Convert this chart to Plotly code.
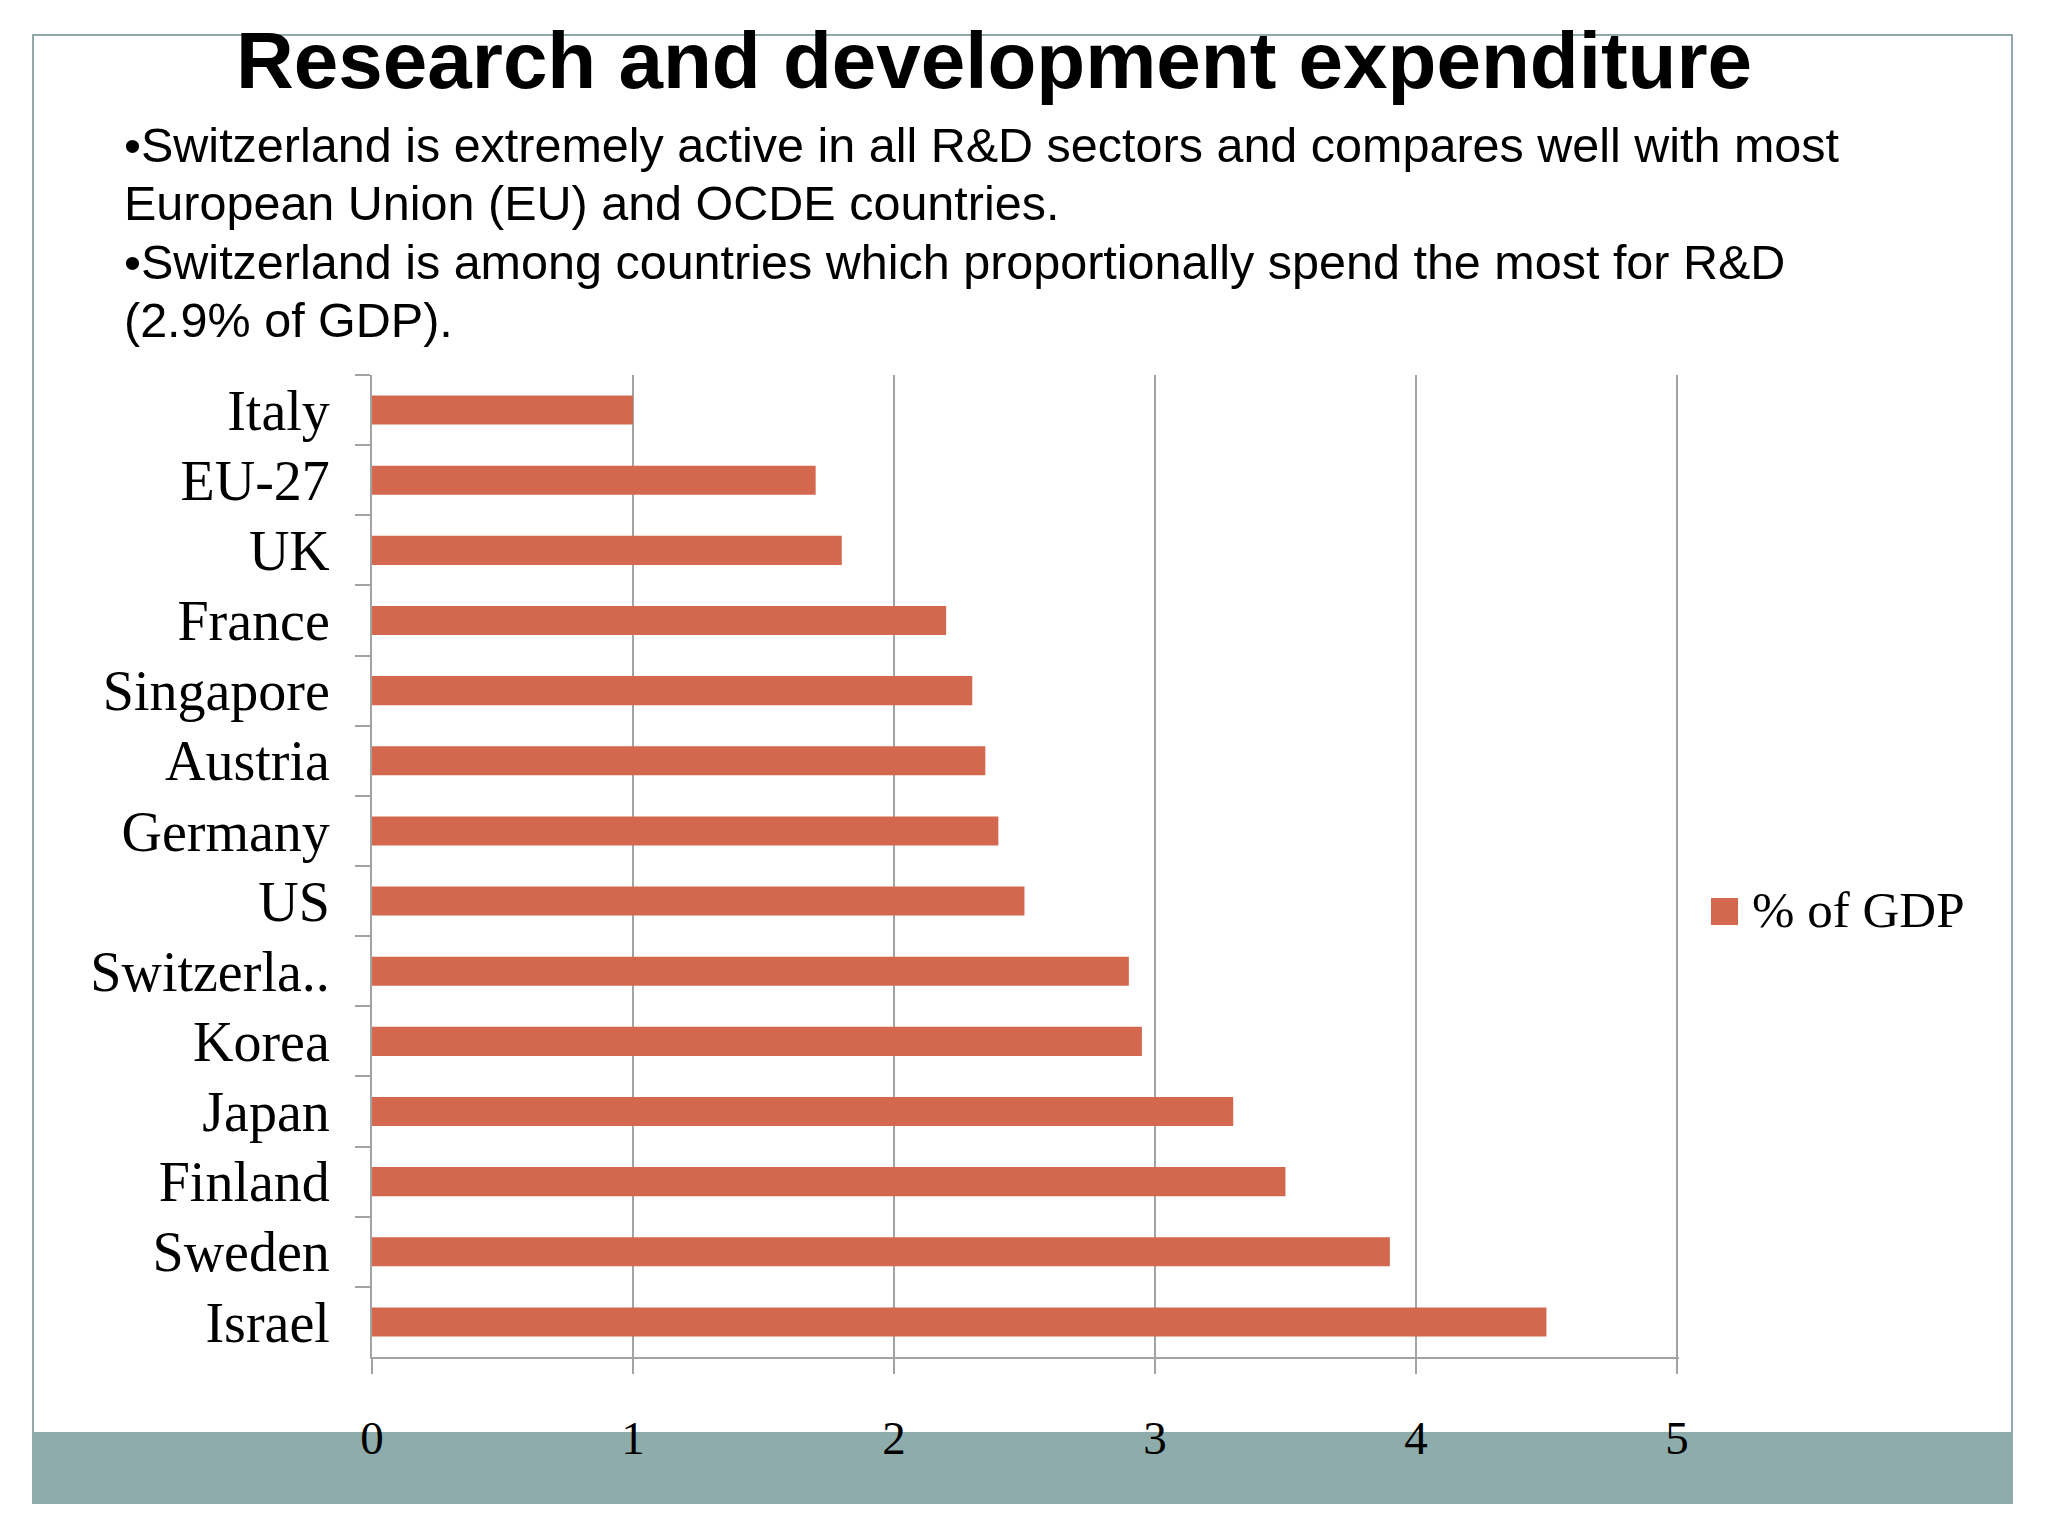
import plotly.graph_objects as go

# ---- data ----
countries = ["Italy", "EU-27", "UK", "France", "Singapore", "Austria", "Germany",
             "US", "Switzerla..", "Korea", "Japan", "Finland", "Sweden", "Israel"]
gdp_share = [1.0, 1.7, 1.8, 2.2, 2.3, 2.35, 2.4, 2.5, 2.9, 2.95, 3.3, 3.5, 3.9, 4.5]
x_ticks = [0, 1, 2, 3, 4, 5]
series_name = "% of GDP"
title_text = "Research and development expenditure"
bullet_lines = [
    "\u2022Switzerland is extremely active in all R&amp;D sectors and compares well with most",
    "European Union (EU) and OCDE countries.",
    "\u2022Switzerland is among countries which proportionally spend the most for R&amp;D",
    "(2.9% of GDP).",
]

# ---- layout geometry (pixels) ----
W, H = 2048, 1536
XMAX = 5.008
L, T, B = 372, 375, 179
PW = int(round(261 * XMAX))
R = W - L - PW
PH = H - T - B

def px(x):
    return (x - L) / PW

def py(y):
    return 1 - (y - T) / PH

BAR = "#D4684F"
TEAL = "#8EACAC"
FRAME = "#8FAAA8"
GRID = "#A3A3A3"
SERIF = "Liberation Serif, Times New Roman, serif"
SANS = "Liberation Sans, Arial, sans-serif"

fig = go.Figure()
fig.add_trace(go.Bar(
    y=countries, x=gdp_share, orientation="h", name=series_name,
    marker=dict(color=BAR, line=dict(width=0)), showlegend=False,
))

shapes = [
    # teal band
    dict(type="rect", xref="paper", yref="paper", x0=px(33), x1=px(2012),
         y0=py(1502), y1=py(1432), fillcolor=TEAL, line=dict(width=0), layer="below"),
    # frame
    dict(type="rect", xref="paper", yref="paper", x0=px(33), x1=px(2012),
         y0=py(1503), y1=py(35), line=dict(color=FRAME, width=2), layer="below"),
    # legend swatch
    dict(type="rect", xref="paper", yref="paper", x0=px(1711), x1=px(1738),
         y0=py(925), y1=py(898), fillcolor=BAR, line=dict(width=0)),
]

annotations = [
    dict(text="<b>%s</b>" % title_text, xref="paper", yref="paper",
         x=px(994), y=py(61), xanchor="center", yanchor="middle", showarrow=False,
         font=dict(family=SANS, size=80, color="black")),
    dict(text=series_name, xref="paper", yref="paper", x=px(1750), y=py(910),
         xanchor="left", yanchor="middle", showarrow=False,
         font=dict(family=SERIF, size=51, color="black")),
]
for line, yc in zip(bullet_lines, [145, 203, 262, 320]):
    annotations.append(dict(text=line, xref="paper", yref="paper", x=px(122), y=py(yc),
                            xanchor="left", yanchor="middle", showarrow=False,
                            font=dict(family=SANS, size=48.5, color="black")))

fig.update_layout(
    width=W, height=H,
    margin=dict(l=L, r=R, t=T, b=B, pad=0),
    paper_bgcolor="white", plot_bgcolor="white",
    bargap=0.586,
    shapes=shapes, annotations=annotations,
    xaxis=dict(range=[0, XMAX], tickvals=x_ticks, ticktext=[str(v) for v in x_ticks],
               showgrid=True, gridcolor=GRID, gridwidth=2,
               showline=True, linecolor=GRID, linewidth=2,
               ticks="outside", ticklen=15, tickwidth=2, tickcolor=GRID,
               ticklabelstandoff=24,
               tickfont=dict(family=SERIF, size=47, color="black"),
               zeroline=False, fixedrange=True),
    yaxis=dict(categoryorder="array", categoryarray=countries, autorange="reversed",
               showgrid=False, showline=True, linecolor=GRID, linewidth=2,
               ticks="outside", tickson="boundaries", ticklen=15, tickwidth=2, tickcolor=GRID,
               ticklabelstandoff=29,
               tickfont=dict(family=SERIF, size=56, color="black"),
               zeroline=False, fixedrange=True),
)

fig.write_html("out.html", config={"displayModeBar": False},
               post_script="document.body.style.margin='0';")
